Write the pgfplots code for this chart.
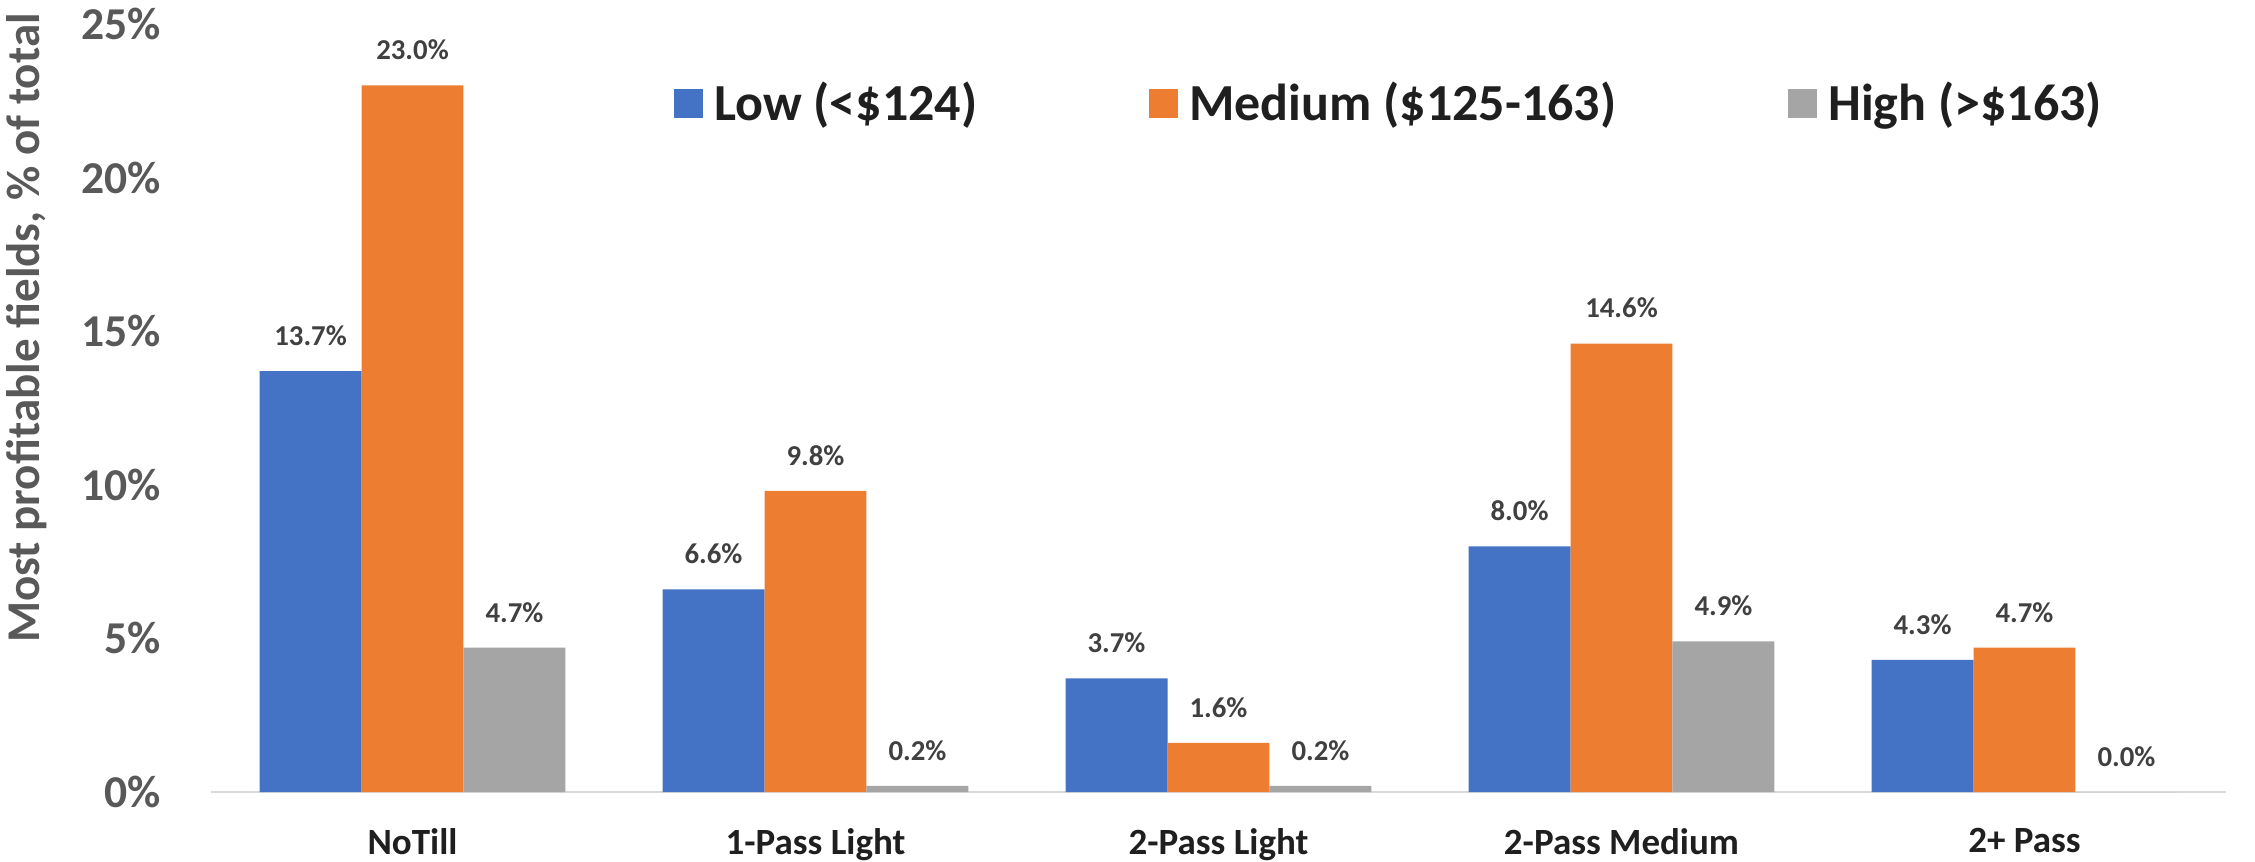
\documentclass[border=0pt]{standalone}
\usepackage{pgfplots}
\pgfplotsset{compat=1.18}
\usepackage{fontspec}
\setmainfont{Carlito}
\definecolor{cLow}{HTML}{4472C4}
\definecolor{cMed}{HTML}{ED7D31}
\definecolor{cHigh}{HTML}{A5A5A5}
\definecolor{tickgray}{HTML}{595959}
\definecolor{lblgray}{HTML}{404040}
\definecolor{txtdark}{HTML}{1F1F1F}
\definecolor{axisgray}{HTML}{D9D9D9}
\begin{document}
\begin{tikzpicture}
\path[use as bounding box] (-52.75pt,-17.25pt) rectangle (511pt,198pt);
\begin{axis}[
  at={(0pt,0pt)}, anchor=south west,
  scale only axis, width=503.75pt, height=192pt,
  ybar=0pt, bar width=0.253,
  xmin=-0.5, xmax=4.5, ymin=0, ymax=25,
  xtick={0,1,2,3,4},
  xticklabels={NoTill,1-Pass Light,2-Pass Light,2-Pass Medium,2+ Pass},
  ytick={0,5,10,15,20,25},
  yticklabels={0\%,5\%,10\%,15\%,20\%,25\%},
  major tick length=0pt,
  axis x line*=bottom, axis y line*=left,
  x axis line style={draw=axisgray, line width=0.6pt},
  y axis line style={draw=none},
  xticklabel style={font=\bfseries\fontsize{9.25}{11}\selectfont, text=txtdark, yshift=-5.5pt},
  yticklabel style={font=\bfseries\fontsize{11.4}{13}\selectfont, text=tickgray, xshift=-9pt},
  ylabel={Most profitable fields, \% of total},
  ylabel style={at={(axis description cs:-0.0913,0.604)}, anchor=center, font=\bfseries\fontsize{11.75}{14}\selectfont, text=tickgray},
  /pgf/number format/assume math mode=true,
  nodes near coords={\pgfmathprintnumber[fixed,fixed zerofill,precision=1]{\pgfplotspointmeta}\%},
  nodes near coords style={font=\bfseries\fontsize{7.2}{8}\selectfont, text=lblgray, anchor=south, yshift=2.8pt},
  legend columns=3,
  legend image code/.code={\fill[#1] (0pt,-3.625pt) rectangle (7.25pt,3.625pt); \path (8pt,0pt);},
  legend style={at={(axis description cs:0.2298,0.896)}, anchor=west, draw=none, fill=none,
    inner sep=0pt, outer sep=0pt,
    font=\bfseries\fontsize{13}{15}\selectfont, text=txtdark,
    /tikz/every even column/.append style={column sep=41pt}},
]
\addplot[fill=cLow, draw=none] coordinates {(0,13.7) (1,6.6) (2,3.7) (3,8.0) (4,4.3)};
\addplot[fill=cMed, draw=none] coordinates {(0,23.0) (1,9.8) (2,1.6) (3,14.6) (4,4.7)};
\addplot[fill=cHigh, draw=none] coordinates {(0,4.7) (1,0.2) (2,0.2) (3,4.9) (4,0.0)};
\legend{Low (<\$124),Medium (\$125-163),High (>\$163)}
\end{axis}
\end{tikzpicture}
\end{document}
